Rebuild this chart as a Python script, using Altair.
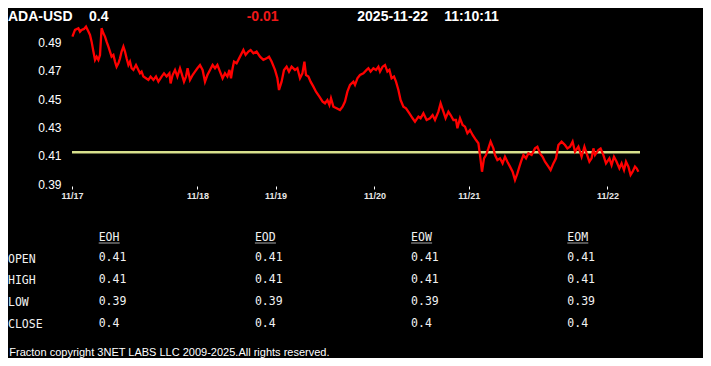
import json
import altair as alt
import pandas as pd

# ---------------- header values ----------------
symbol = "ADA-USD"
last_price = "0.4"
change = "-0.01"
quote_date = "2025-11-22"
quote_time = "11:10:11"
footer = "Fracton copyright 3NET LABS LLC 2009-2025.All rights reserved."

# ---------------- price series (sample position, price) ----------------
sample_idx = [
    0.2, 1.5, 3.2, 4.0, 4.8, 6.0, 7.0, 8.2, 9.0, 9.8, 10.7, 11.5, 12.3, 13.2, 14.0, 14.8,
    15.7, 16.5, 17.3, 18.2, 19.0, 19.8, 20.7, 21.5, 22.3, 23.2, 24.0, 24.8, 25.7, 26.5, 27.3,
    28.2, 29.0, 29.8, 30.7, 32.0, 33.2, 34.0, 34.8, 35.7, 37.0, 38.2, 39.3, 40.7, 42.0, 43.2,
    44.8, 46.0, 47.3, 48.7, 49.3, 50.3, 51.5, 52.7, 54.0, 54.8, 56.0, 57.0, 57.8, 59.0, 60.3,
    61.5, 62.7, 64.0, 65.3, 66.5, 67.7, 69.0, 70.3, 71.5, 72.7, 74.0, 75.3, 76.5, 77.7, 78.7,
    79.5, 80.3, 81.0, 82.3, 84.0, 85.7, 86.8, 88.2, 89.3, 90.7, 92.3, 94.0, 95.7, 97.3, 98.5,
    99.8, 101.5, 102.7, 103.5, 104.8, 106.0, 107.3, 108.5, 109.8, 111.5, 112.7, 114.0, 115.2,
    116.2, 117.0, 118.2, 119.3, 120.7, 122.0, 123.7, 125.3, 126.5, 127.7, 128.7, 129.5, 130.7,
    132.3, 134.0, 135.3, 136.5, 137.7, 139.0, 140.7, 141.5, 142.7, 144.0,
    145.7, 147.3, 148.2, 149.3, 150.7, 152.0, 153.2, 154.0, 155.3, 156.5, 157.7, 158.7, 159.8,
    161.0, 162.0, 163.2, 164.3, 165.7, 167.0, 168.7, 170.3, 171.5, 173.2, 174.3, 175.7, 177.3,
    179.0, 180.3, 181.5, 183.2, 184.3, 185.7, 186.8, 188.2, 189.3, 190.7, 192.0, 192.7, 194.0,
    195.3, 196.5, 197.7, 199.0, 200.3, 202.0, 203.2, 204.0, 205.0, 206.0, 207.0, 208.2, 209.3,
    210.7, 211.5, 212.7, 214.0, 215.3, 216.5, 217.7, 219.0, 220.3, 221.5, 222.7, 223.7, 224.5,
    225.7, 227.0, 228.2, 229.8, 231.5, 232.7, 234.0, 235.3, 236.5, 238.2, 239.3, 240.7, 242.0,
    243.2, 244.8, 246.5, 247.7, 249.0, 250.3, 251.5, 253.2, 254.8, 256.2, 257.3, 258.7, 259.8,
    260.7, 261.5, 263.2, 264.3, 265.7, 267.0, 268.7, 269.8, 271.0, 272.3, 273.7, 274.8, 276.0,
    277.0, 278.2, 279.3, 280.3, 281.5, 282.3, 283.2,
]
price = [
    0.4943, 0.4990, 0.5002, 0.4978, 0.4990, 0.4997, 0.5013, 0.4978, 0.4954, 0.4907, 0.4837,
    0.4778, 0.4801, 0.4778, 0.4813, 0.5002, 0.4966, 0.4943, 0.4907, 0.4872, 0.4837, 0.4801,
    0.4813, 0.4766, 0.4730, 0.4754, 0.4789, 0.4837, 0.4872, 0.4837, 0.4789, 0.4742, 0.4766,
    0.4719, 0.4707, 0.4742, 0.4707, 0.4683, 0.4695, 0.4660, 0.4648, 0.4636, 0.4660, 0.4636,
    0.4660, 0.4624, 0.4660, 0.4683, 0.4660, 0.4683, 0.4612, 0.4671, 0.4707, 0.4660, 0.4719,
    0.4683, 0.4624, 0.4660, 0.4719, 0.4636, 0.4671, 0.4695, 0.4719, 0.4742, 0.4707, 0.4624,
    0.4671, 0.4707, 0.4742, 0.4719, 0.4742, 0.4695, 0.4648, 0.4683, 0.4660, 0.4707, 0.4648,
    0.4719, 0.4766, 0.4754, 0.4801, 0.4848, 0.4813, 0.4837, 0.4848, 0.4825, 0.4837, 0.4801,
    0.4778, 0.4789, 0.4801, 0.4766, 0.4707, 0.4648, 0.4565, 0.4624, 0.4707, 0.4730, 0.4695,
    0.4730, 0.4707, 0.4719, 0.4648, 0.4683, 0.4766, 0.4671, 0.4660, 0.4624, 0.4589, 0.4553,
    0.4518, 0.4483, 0.4471, 0.4494, 0.4459, 0.4506, 0.4447, 0.4436, 0.4424, 0.4447, 0.4483,
    0.4553, 0.4601, 0.4624, 0.4601, 0.4648, 0.4671,
    0.4683, 0.4707, 0.4719, 0.4695, 0.4719, 0.4707, 0.4730, 0.4695, 0.4730, 0.4742, 0.4695,
    0.4707, 0.4648, 0.4660, 0.4624, 0.4565, 0.4494, 0.4447, 0.4436, 0.4400, 0.4365, 0.4341,
    0.4377, 0.4365, 0.4400, 0.4353, 0.4365, 0.4388, 0.4353, 0.4412, 0.4471, 0.4412, 0.4365,
    0.4412, 0.4388, 0.4353, 0.4353, 0.4294, 0.4365, 0.4318, 0.4306, 0.4259, 0.4282, 0.4247,
    0.4211, 0.4188, 0.4105, 0.3987, 0.4082, 0.4105, 0.4152, 0.4200, 0.4152, 0.4105, 0.4070,
    0.4082, 0.4046, 0.4093, 0.4058, 0.4023, 0.3987, 0.3928, 0.3975, 0.4023, 0.4058, 0.4105,
    0.4082, 0.4117, 0.4105, 0.4152, 0.4164, 0.4117, 0.4093, 0.4058, 0.4023, 0.3999, 0.4046,
    0.4082, 0.4176, 0.4200, 0.4176, 0.4152, 0.4164, 0.4200, 0.4129, 0.4164, 0.4093, 0.4164,
    0.4117, 0.4058, 0.4082, 0.4152, 0.4105, 0.4141, 0.4152, 0.4105, 0.4046, 0.4082, 0.4034,
    0.4093, 0.4058, 0.4011, 0.4046, 0.3999, 0.4058, 0.4023, 0.3964, 0.3987, 0.4023, 0.4011,
    0.3987,
]
assert len(sample_idx) == len(price), (len(sample_idx), len(price))

reference_level = [0.4125]

# x axis: day boundaries (sample positions) and their labels
tick_pos = [0, 62.7, 101.8, 151.2, 198.4, 267.7]
tick_labels = ["11/17", "11/18", "11/19", "11/20", "11/21", "11/22"]
y_ticks = [0.39, 0.41, 0.43, 0.45, 0.47, 0.49]

# ---------------- OHLC table ----------------
periods = ["EOH", "EOD", "EOW", "EOM"]
fields = ["OPEN", "HIGH", "LOW", "CLOSE"]
open_vals = ["0.41", "0.41", "0.41", "0.41"]
high_vals = ["0.41", "0.41", "0.41", "0.41"]
low_vals = ["0.39", "0.39", "0.39", "0.39"]
close_vals = ["0.4", "0.4", "0.4", "0.4"]

table_rows = []
for f, vals in zip(fields, [open_vals, high_vals, low_vals, close_vals]):
    for p, v in zip(periods, vals):
        table_rows.append({"period": p, "field": f, "value": v})
table_df = pd.DataFrame(table_rows)

# ---------------- styling ----------------
SANS = "Liberation Sans"
MONO = "DejaVu Sans Mono"
WHITE = "#ffffff"

x_scale = alt.Scale(domain=[0, 284], nice=False, zero=False)
y_scale = alt.Scale(domain=[0.3886, 0.5046], nice=False, zero=False)

label_expr = f"{json.dumps(tick_labels)}[indexof({json.dumps(tick_pos)}, datum.value)]"

y_axis = alt.Axis(
    title=None, values=y_ticks, format=".2f", grid=False, domain=False,
    ticks=False, tickSize=0, labelPadding=11, labelColor=WHITE,
    labelFont=SANS, labelFontSize=12, labelOverlap=False, labelBound=False,
)

line_df = pd.DataFrame({"sample": sample_idx, "price": price})

line = alt.Chart(line_df).mark_line(color="#ff0000", strokeWidth=2.3).encode(
    x=alt.X(
        "sample:Q",
        scale=x_scale,
        axis=alt.Axis(
            title=None, values=tick_pos, labelExpr=label_expr, grid=False, domain=False,
            tickColor=WHITE, tickSize=3, tickWidth=1, labelPadding=2,
            labelColor="#e8e8e8", labelFont=SANS, labelFontSize=9, labelFontWeight="bold",
            labelFlush=False, labelOverlap=False, labelBound=False,
        ),
    ),
    y=alt.Y("price:Q", scale=y_scale, axis=y_axis),
)

rule = alt.Chart(pd.DataFrame({"level": reference_level})).mark_rule(
    color="#d8e08c", strokeWidth=2.5
).encode(y=alt.Y("level:Q", scale=y_scale, axis=y_axis))

main = alt.layer(rule, line)


def header_text(txt, xpos, color=WHITE):
    return alt.Chart(pd.DataFrame({"t": [txt]})).mark_text(
        align="left", baseline="alphabetic", font=SANS, fontSize=14,
        fontWeight="bold", color=color,
    ).encode(x=alt.value(xpos), y=alt.value(-1.0), text="t:N")


headers = [
    header_text(symbol, -64),
    header_text(last_price, 17),
    header_text(change, 174.7, "#f01818"),
    header_text(quote_date, 285.3),
    header_text(quote_time, 372.3),
]

col_scale = alt.Scale(type="point", domain=periods, range=[26.7, 495.3], padding=0)

row_labels = alt.Chart(pd.DataFrame({"field": fields})).mark_text(
    align="left", baseline="middle", font=MONO, fontSize=11.5, color="#f2f2f2"
).encode(
    x=alt.value(-64),
    y=alt.Y("field:N", scale=alt.Scale(type="point", domain=fields, range=[237.5, 303.3], padding=0), axis=None),
    text="field:N",
)

values = alt.Chart(table_df).mark_text(
    align="left", baseline="middle", font=MONO, fontSize=11.5, color="#f2f2f2"
).encode(
    x=alt.X("period:N", scale=col_scale, axis=None),
    y=alt.Y("field:N", scale=alt.Scale(type="point", domain=fields, range=[236, 301.8], padding=0), axis=None),
    text="value:N",
)

col_headers = alt.Chart(pd.DataFrame({"period": periods})).mark_text(
    align="left", baseline="middle", font=MONO, fontSize=11.5, color="#f2f2f2"
).encode(
    x=alt.X("period:N", scale=col_scale, axis=None),
    y=alt.value(216),
    text="period:N",
)

underline = alt.Chart(pd.DataFrame({"period": periods})).mark_tick(
    orient="horizontal", size=21, thickness=1, xOffset=10.5, color="#f2f2f2"
).encode(
    x=alt.X("period:N", scale=col_scale, axis=None),
    y=alt.value(221),
)

footer_text = alt.Chart(pd.DataFrame({"t": [footer]})).mark_text(
    align="left", baseline="alphabetic", font=SANS, fontSize=11, color=WHITE
).encode(x=alt.value(-62.7), y=alt.value(333.5), text="t:N")

chart = alt.layer(
    main, *headers, row_labels, values, col_headers, underline, footer_text
).resolve_scale(
    x="independent", y="independent"
).properties(
    width=568,
    height=164,
    padding={"left": 64, "top": 14, "right": 63, "bottom": 172},
    autosize=alt.AutoSizeParams(type="none"),
).configure(
    background="black"
).configure_view(
    stroke="transparent"
)

chart.save("out.html", embed_options={"renderer": "svg", "actions": False})
